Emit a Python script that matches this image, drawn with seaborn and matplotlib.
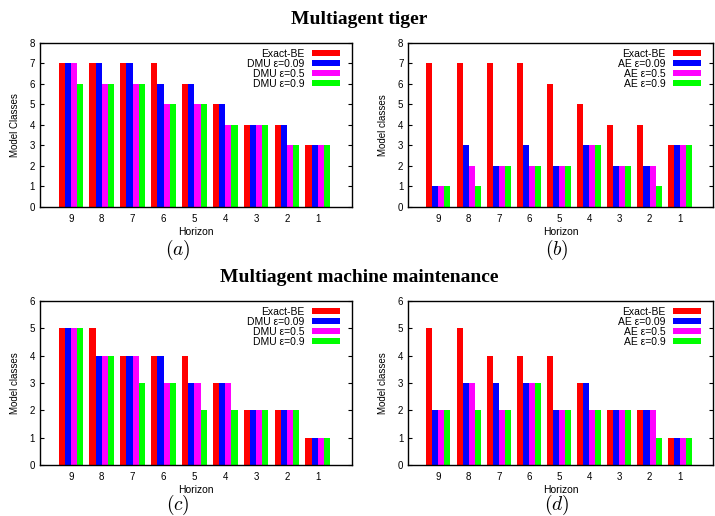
import pandas as pd
import seaborn as sns
import matplotlib.pyplot as plt
from matplotlib.patches import Patch

horizons = ['9', '8', '7', '6', '5', '4', '3', '2', '1']

# Multiagent tiger
tiger_exact = [7, 7, 7, 7, 6, 5, 4, 4, 3]
tiger_dmu_009 = [7, 7, 7, 6, 6, 5, 4, 4, 3]
tiger_dmu_05 = [7, 6, 6, 5, 5, 4, 4, 3, 3]
tiger_dmu_09 = [6, 6, 6, 5, 5, 4, 4, 3, 3]
tiger_ae_009 = [1, 3, 2, 3, 2, 3, 2, 2, 3]
tiger_ae_05 = [1, 2, 2, 2, 2, 3, 2, 2, 3]
tiger_ae_09 = [1, 1, 2, 2, 2, 3, 2, 1, 3]

# Multiagent machine maintenance
mm_exact = [5, 5, 4, 4, 4, 3, 2, 2, 1]
mm_dmu_009 = [5, 4, 4, 4, 3, 3, 2, 2, 1]
mm_dmu_05 = [5, 4, 4, 3, 3, 3, 2, 2, 1]
mm_dmu_09 = [5, 4, 3, 3, 2, 2, 2, 2, 1]
mm_ae_009 = [2, 3, 3, 3, 2, 3, 2, 2, 1]
mm_ae_05 = [2, 3, 2, 3, 2, 2, 2, 2, 1]
mm_ae_09 = [2, 2, 2, 3, 2, 2, 2, 1, 1]

colors = ['#ff0000', '#0000ff', '#ff00ff', '#00ff00']

plt.rcParams['mathtext.fontset'] = 'cm'
plt.rcParams['font.family'] = ['Liberation Sans', 'DejaVu Sans']


def make_df(series, names):
    rows = []
    for name, vals in zip(names, series):
        for h, v in zip(horizons, vals):
            rows.append({'Horizon': h, 'Method': name, 'Value': v})
    return pd.DataFrame(rows)


def draw(ax, series, names, ymax, ylabel):
    df = make_df(series, names)
    sns.barplot(data=df, x='Horizon', y='Value', hue='Method', order=horizons,
                hue_order=names, palette=colors, saturation=1, width=0.8,
                linewidth=0, ax=ax, legend=False)
    ax.set_xlim(-1, 9.1)
    ax.set_ylim(0, ymax)
    ax.set_yticks(range(ymax + 1))
    ax.tick_params(axis='y', direction='in', right=True, labelsize=7, length=3)
    ax.tick_params(axis='x', direction='in', length=0, labelsize=7, pad=5)
    ax.set_xlabel('Horizon', fontsize=7.5, labelpad=2)
    ax.set_ylabel(ylabel, fontsize=7, labelpad=7)
    for s in ax.spines.values():
        s.set_linewidth(1.0)
    handles = [Patch(facecolor=c, edgecolor='none') for c in colors]
    ax.legend(handles, names, loc='upper right', bbox_to_anchor=(0.98, 1.0),
              frameon=False, markerfirst=False,
              fontsize=7.5, handlelength=2.7, handleheight=0.5, labelspacing=0.0,
              borderaxespad=0.25, borderpad=0.3, handletextpad=0.7)


fig = plt.figure(figsize=(7.15, 5.16), dpi=100)
ax_a = fig.add_axes([0.056, 0.599, 0.436, 0.318])
ax_b = fig.add_axes([0.571, 0.599, 0.426, 0.318])
ax_c = fig.add_axes([0.056, 0.099, 0.436, 0.318])
ax_d = fig.add_axes([0.571, 0.099, 0.426, 0.318])

dmu_names = ['Exact-BE', 'DMU ε=0.09', 'DMU ε=0.5', 'DMU ε=0.9']
ae_names = ['Exact-BE', 'AE ε=0.09', 'AE ε=0.5', 'AE ε=0.9']

draw(ax_a, [tiger_exact, tiger_dmu_009, tiger_dmu_05, tiger_dmu_09], dmu_names, 8, 'Model Classes')
draw(ax_b, [tiger_exact, tiger_ae_009, tiger_ae_05, tiger_ae_09], ae_names, 8, 'Model classes')
draw(ax_c, [mm_exact, mm_dmu_009, mm_dmu_05, mm_dmu_09], dmu_names, 6, 'Model classes')
draw(ax_d, [mm_exact, mm_ae_009, mm_ae_05, mm_ae_09], ae_names, 6, 'Model classes')

fig.text(0.503, 0.963, 'Multiagent tiger', ha='center', va='center',
         fontsize=14, fontweight='bold', family='Liberation Serif')
fig.text(0.503, 0.462, 'Multiagent machine maintenance', ha='center', va='center',
         fontsize=14, fontweight='bold', family='Liberation Serif')
fig.text(0.249, 0.516, '$(a)$', ha='center', va='center', fontsize=14)
fig.text(0.779, 0.516, '$(b)$', ha='center', va='center', fontsize=14)
fig.text(0.249, 0.021, '$(c)$', ha='center', va='center', fontsize=14)
fig.text(0.779, 0.021, '$(d)$', ha='center', va='center', fontsize=14)

fig.savefig('out.png', dpi=100)
